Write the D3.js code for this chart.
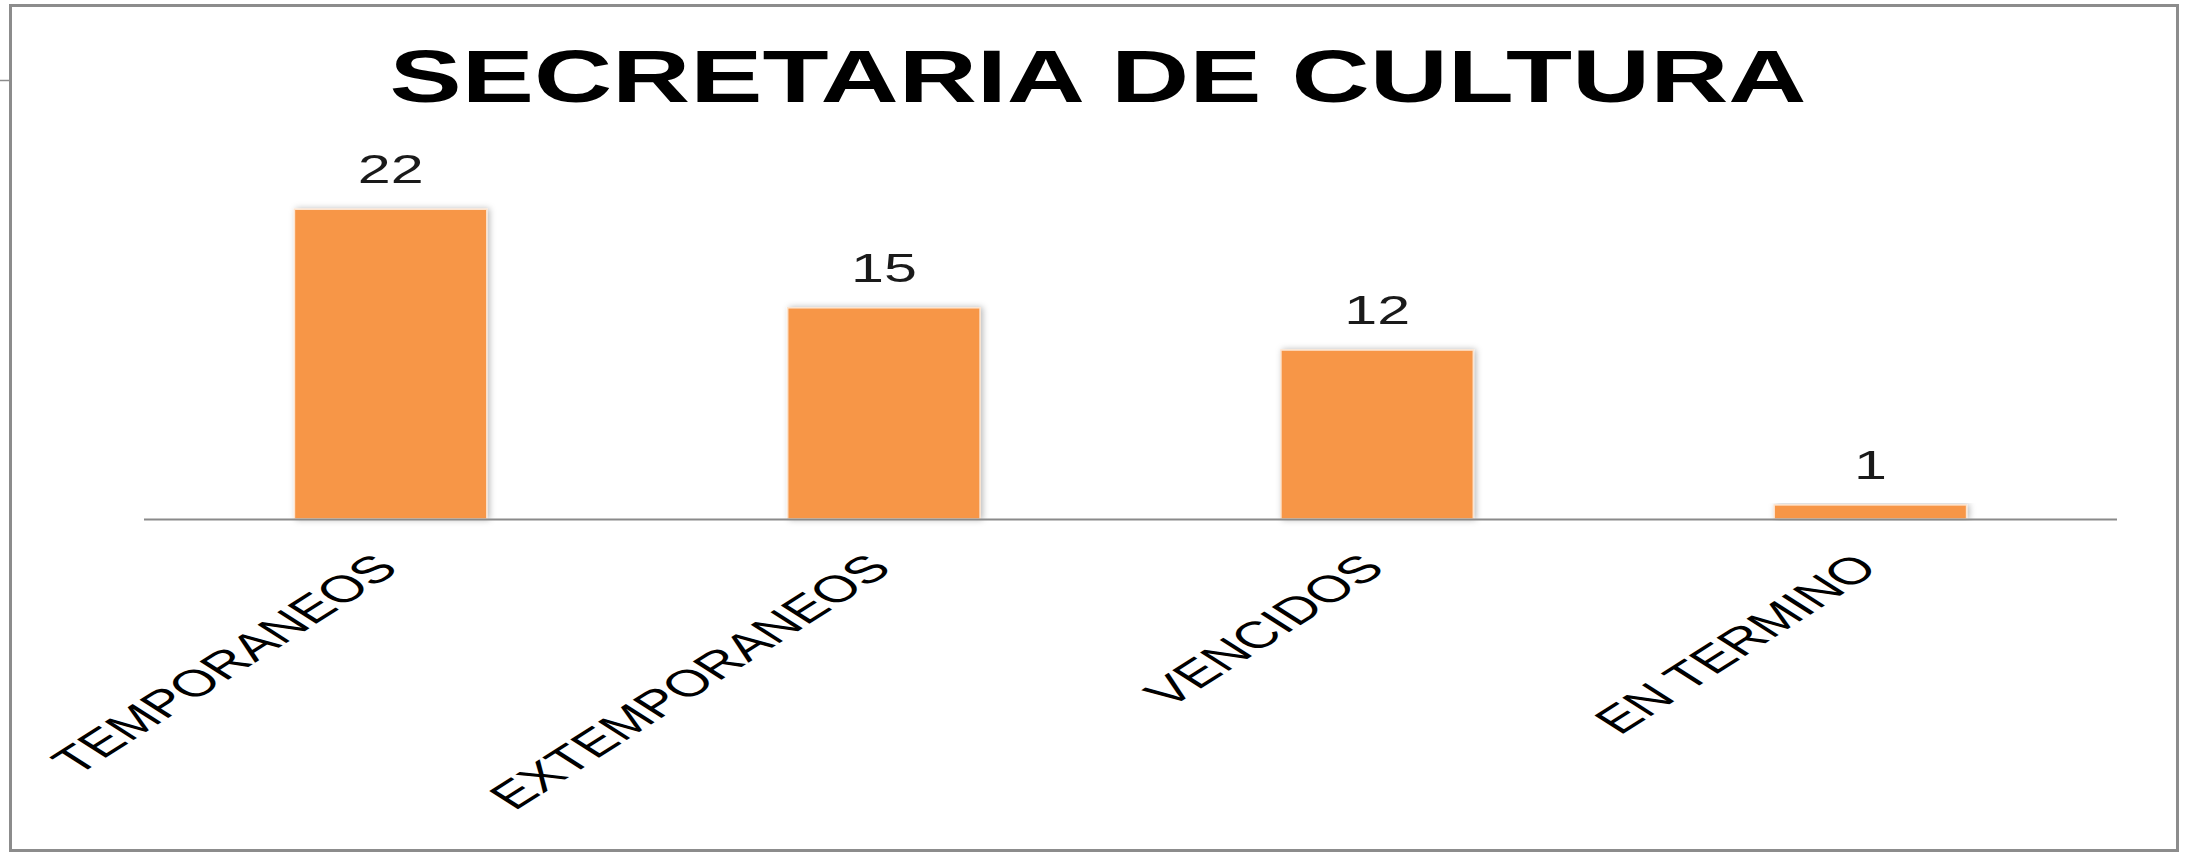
<!DOCTYPE html>
<html>
<head>
<meta charset="utf-8">
<script src="https://cdn.jsdelivr.net/npm/d3@7"></script>
<style>
  html, body { margin: 0; padding: 0; background: #ffffff; }
  svg { display: block; }
  text { font-family: "Liberation Sans", Arial, sans-serif; }
</style>
</head>
<body>
<svg id="chart" width="2195" height="852"></svg>
<script>
// ---- data ----
const title = "SECRETARIA DE CULTURA";
const categories = ["TEMPORANEOS", "EXTEMPORANEOS", "VENCIDOS", "EN TERMINO"];
const values = [22, 15, 12, 1];

// ---- layout ----
const W = 2195, H = 852;
const plot = { left: 144, right: 2117, top: 167, bottom: 519 };

const svg = d3.select("#chart");

// defs: soft bar shadow
const defs = svg.append("defs");
const f = defs.append("filter").attr("id", "shadow")
  .attr("x", "-10%").attr("y", "-10%").attr("width", "120%").attr("height", "120%");
f.append("feDropShadow").attr("dx", 2).attr("dy", 0).attr("stdDeviation", 3)
  .attr("flood-color", "#000").attr("flood-opacity", 0.28);

// outer frame
svg.append("rect")
  .attr("x", 10.5).attr("y", 5.5).attr("width", 2167).attr("height", 845)
  .attr("fill", "#ffffff").attr("stroke", "#8c8c8c").attr("stroke-width", 3);
// little stub line at left edge
svg.append("line").attr("x1", 0).attr("x2", 9).attr("y1", 80.5).attr("y2", 80.5)
  .attr("stroke", "#8c8c8c").attr("stroke-width", 1.5);

// scales
const x = d3.scaleBand().domain(categories)
  .range([plot.left, plot.right]).paddingInner(0.61).paddingOuter(0.305);
const y = d3.scaleLinear().domain([0, 25]).range([plot.bottom, plot.top]);

// title
svg.append("text")
  .attr("x", 1098).attr("y", 102)
  .attr("text-anchor", "middle")
  .attr("font-size", 75).attr("font-weight", "bold").attr("fill", "#000")
  .attr("textLength", 1417).attr("lengthAdjust", "spacingAndGlyphs")
  .text(title);

// bars
svg.append("g").selectAll("rect").data(values).join("rect")
  .attr("x", (d, i) => x(categories[i]))
  .attr("y", d => y(d))
  .attr("width", x.bandwidth())
  .attr("height", d => y(0) - y(d))
  .attr("fill", "#F79646")
  .attr("stroke", "#fde4cf").attr("stroke-width", 1.5)
  .attr("filter", "url(#shadow)");

// x axis line
svg.append("line")
  .attr("x1", plot.left).attr("x2", plot.right)
  .attr("y1", y(0) + 0.5).attr("y2", y(0) + 0.5)
  .attr("stroke", "#8a8a8a").attr("stroke-width", 2);

// value labels
svg.append("g").selectAll("text").data(values).join("text")
  .attr("transform", (d, i) => `translate(${x(categories[i]) + x.bandwidth() / 2},${y(d) - 26}) scale(1.48,1)`)
  .attr("text-anchor", "middle")
  .attr("font-size", 40).attr("fill", "#1a1a1a")
  .text(d => d);

// category labels (rotated, stretched like the reference)
svg.append("g").selectAll("text").data(categories).join("text")
  .attr("transform", d => `translate(${x(d) + x.bandwidth() / 2 + 10},${y(0) + 51}) scale(1.57,1) rotate(-45)`)
  .attr("text-anchor", "end")
  .attr("font-size", 37.5).attr("fill", "#000")
  .text(d => d);
</script>
</body>
</html>
